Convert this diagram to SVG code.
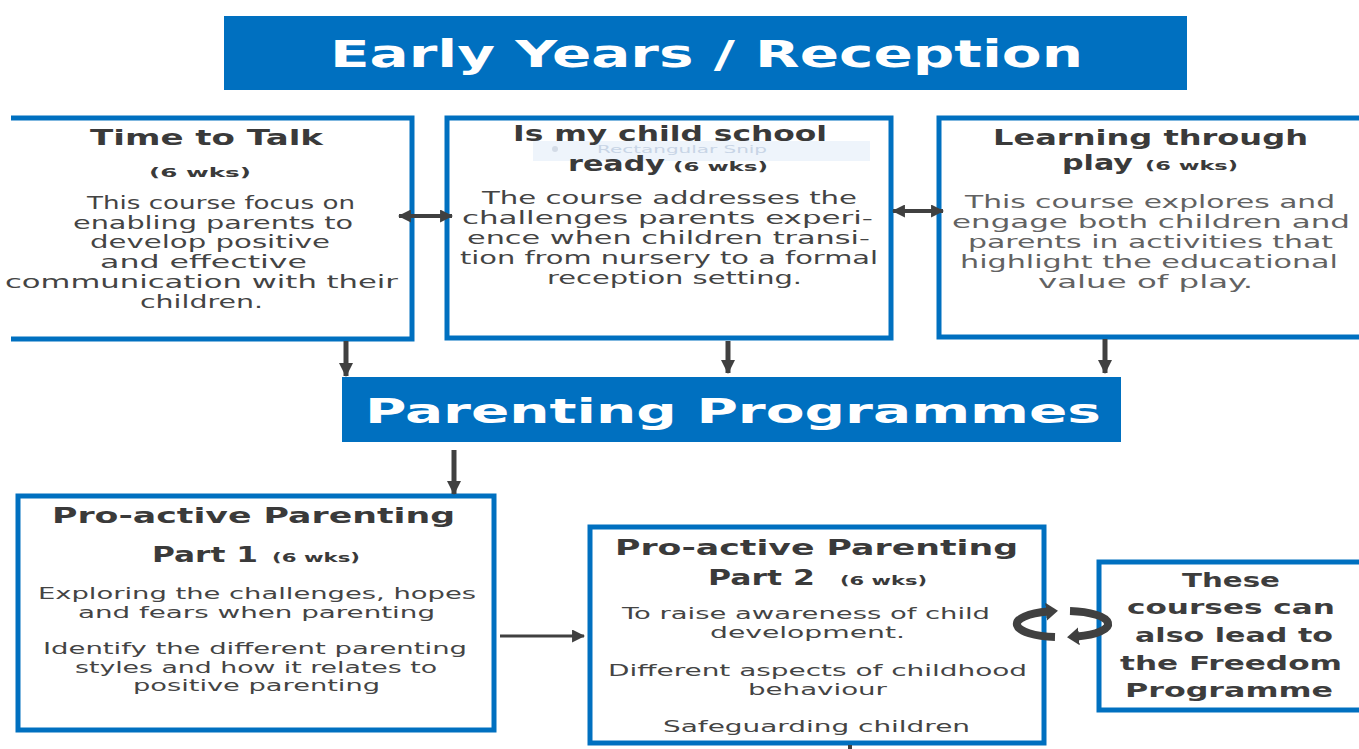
<svg xmlns="http://www.w3.org/2000/svg" width="1359" height="749" viewBox="0 0 1359 749">
  <defs>
    <style>
      .banner { fill: #0070c0; }
      .banner-text { font-family: "DejaVu Sans", "Liberation Sans", sans-serif; font-weight: bold; fill: #ffffff; text-anchor: middle; }
      .box { fill: #ffffff; stroke: #0070c0; stroke-width: 5; }
      .edge { fill: none; stroke: #0070c0; stroke-width: 5; }
      .title { font-family: "DejaVu Sans", "Liberation Sans", sans-serif; font-weight: bold; font-size: 21px; fill: #3a3a3a; text-anchor: middle; }
      .wks { font-family: "DejaVu Sans", "Liberation Sans", sans-serif; font-weight: bold; font-size: 12px; fill: #3a3a3a; text-anchor: middle; }
      .body { font-family: "DejaVu Sans", "Liberation Sans", sans-serif; font-size: 17px; fill: #444444; text-anchor: middle; }
      .body.tight { font-size: 16px; }
      .body.light { fill: #626262; }
      .lead { font-family: "DejaVu Sans", "Liberation Sans", sans-serif; font-weight: bold; font-size: 20px; fill: #3d3d3d; text-anchor: middle; }
      .conn { stroke: #404040; fill: none; }
      .snip { font-family: "DejaVu Sans", "Liberation Sans", sans-serif; font-size: 10px; fill: #c8d5e6; text-anchor: middle; }
    </style>
    <marker id="head" viewBox="0 0 12 12" markerUnits="userSpaceOnUse" markerWidth="13" markerHeight="13" refX="11" refY="6" orient="auto-start-reverse">
      <path d="M0,0 L12,6 L0,12 z" fill="#404040"/>
    </marker>
    <marker id="headBig" viewBox="0 0 14 14" markerUnits="userSpaceOnUse" markerWidth="15" markerHeight="14" refX="13" refY="7" orient="auto">
      <path d="M0,0 L14,7 L0,14 z" fill="#404040"/>
    </marker>
    <marker id="cycleHead" viewBox="0 0 12 18" markerUnits="userSpaceOnUse" markerWidth="12" markerHeight="18" refX="2" refY="9" orient="auto">
      <path d="M0,0 L12,9 L0,18 z" fill="#404040"/>
    </marker>
  </defs>

  <rect width="1359" height="749" fill="#ffffff"/>

  <!-- Header banner -->
  <g id="early-years">
    <rect class="banner" x="224" y="16" width="963" height="74"/>
    <text class="banner-text" x="706.5" y="67" font-size="37" textLength="753" lengthAdjust="spacingAndGlyphs">Early Years / Reception</text>
  </g>

  <!-- Course: Time to Talk (left edge runs off the page) -->
  <g id="time-to-talk">
    <rect x="0" y="118" width="412" height="221" fill="#ffffff"/>
    <path class="edge" d="M11,118 H412 V339 H11"/>
    <text class="title" x="206.5" y="145" textLength="233" lengthAdjust="spacingAndGlyphs">Time to Talk</text>
    <text class="wks" x="200" y="177" textLength="102" lengthAdjust="spacingAndGlyphs">(6 wks)</text>
    <text class="body" x="221" y="209" textLength="268" lengthAdjust="spacingAndGlyphs">This course focus on</text>
    <text class="body" x="213" y="229" textLength="280" lengthAdjust="spacingAndGlyphs">enabling parents to</text>
    <text class="body" x="210" y="248" textLength="240" lengthAdjust="spacingAndGlyphs">develop positive</text>
    <text class="body" x="203.5" y="268" textLength="207" lengthAdjust="spacingAndGlyphs">and effective</text>
    <text class="body" x="201.5" y="288" textLength="393" lengthAdjust="spacingAndGlyphs">communication with their</text>
    <text class="body" x="201.5" y="308" textLength="123" lengthAdjust="spacingAndGlyphs">children.</text>
  </g>

  <!-- Course: Is my child school ready (a faint "Rectangular Snip" tooltip sits over the heading) -->
  <g id="school-ready">
    <rect class="box" x="447" y="118" width="444" height="220"/>
    <rect x="533" y="141" width="337" height="20" fill="#eef4fb"/>
    <circle cx="555" cy="149" r="3" fill="#d3dbe6"/>
    <text class="snip" x="682" y="152.5" textLength="170" lengthAdjust="spacingAndGlyphs">Rectangular Snip</text>
    <text class="title" x="670" y="141" textLength="314" lengthAdjust="spacingAndGlyphs">Is my child school</text>
    <text class="title" x="616.5" y="171" textLength="97" lengthAdjust="spacingAndGlyphs">ready</text>
    <text class="wks" x="720.5" y="171" textLength="95" lengthAdjust="spacingAndGlyphs">(6 wks)</text>
    <text class="body" x="669.5" y="204" textLength="375" lengthAdjust="spacingAndGlyphs">The course addresses the</text>
    <text class="body" x="667.5" y="224" textLength="411" lengthAdjust="spacingAndGlyphs">challenges parents experi-</text>
    <text class="body" x="668.5" y="244" textLength="403" lengthAdjust="spacingAndGlyphs">ence when children transi-</text>
    <text class="body" x="669" y="264" textLength="418" lengthAdjust="spacingAndGlyphs">tion from nursery to a formal</text>
    <text class="body" x="674.5" y="284" textLength="255" lengthAdjust="spacingAndGlyphs">reception setting.</text>
  </g>

  <!-- Course: Learning through play (right edge runs off the page) -->
  <g id="learning-through-play">
    <rect class="box" x="939" y="118" width="440" height="219"/>
    <text class="title" x="1150.5" y="145" textLength="315" lengthAdjust="spacingAndGlyphs">Learning through</text>
    <text class="title" x="1097.5" y="170" textLength="71" lengthAdjust="spacingAndGlyphs">play</text>
    <text class="wks" x="1191.5" y="170" textLength="93" lengthAdjust="spacingAndGlyphs">(6 wks)</text>
    <text class="body light" x="1150" y="208" textLength="370" lengthAdjust="spacingAndGlyphs">This course explores and</text>
    <text class="body light" x="1151" y="228" textLength="398" lengthAdjust="spacingAndGlyphs">engage both children and</text>
    <text class="body light" x="1150.5" y="248" textLength="365" lengthAdjust="spacingAndGlyphs">parents in activities that</text>
    <text class="body light" x="1149" y="268" textLength="378" lengthAdjust="spacingAndGlyphs">highlight the educational</text>
    <text class="body light" x="1145.5" y="288" textLength="215" lengthAdjust="spacingAndGlyphs">value of play.</text>
  </g>

  <!-- Hub banner -->
  <g id="parenting-programmes">
    <rect class="banner" x="342" y="377" width="779" height="65"/>
    <text class="banner-text" x="733" y="423" font-size="34" textLength="736" lengthAdjust="spacingAndGlyphs">Parenting Programmes</text>
  </g>

  <!-- Course: Pro-active Parenting Part 1 -->
  <g id="proactive-part1">
    <rect class="box" x="18" y="496" width="476" height="234"/>
    <text class="title" x="253.5" y="523" textLength="403" lengthAdjust="spacingAndGlyphs">Pro-active Parenting</text>
    <text class="title" x="205" y="562" textLength="106" lengthAdjust="spacingAndGlyphs">Part 1</text>
    <text class="wks" x="316" y="562" textLength="88" lengthAdjust="spacingAndGlyphs">(6 wks)</text>
    <text class="body tight" x="257" y="599" textLength="438" lengthAdjust="spacingAndGlyphs">Exploring the challenges, hopes</text>
    <text class="body tight" x="256.5" y="618" textLength="357" lengthAdjust="spacingAndGlyphs">and fears when parenting</text>
    <text class="body tight" x="255" y="654" textLength="424" lengthAdjust="spacingAndGlyphs">Identify the different parenting</text>
    <text class="body tight" x="256" y="673" textLength="362" lengthAdjust="spacingAndGlyphs">styles and how it relates to</text>
    <text class="body tight" x="256.5" y="691" textLength="247" lengthAdjust="spacingAndGlyphs">positive parenting</text>
  </g>

  <!-- Course: Pro-active Parenting Part 2 -->
  <g id="proactive-part2">
    <rect class="box" x="590" y="527" width="454" height="216"/>
    <text class="title" x="816.5" y="555" textLength="403" lengthAdjust="spacingAndGlyphs">Pro-active Parenting</text>
    <text class="title" x="761.5" y="585" textLength="107" lengthAdjust="spacingAndGlyphs">Part 2</text>
    <text class="wks" x="883.5" y="585" textLength="87" lengthAdjust="spacingAndGlyphs">(6 wks)</text>
    <text class="body tight" x="806" y="619" textLength="368" lengthAdjust="spacingAndGlyphs">To raise awareness of child</text>
    <text class="body tight" x="807.5" y="638" textLength="195" lengthAdjust="spacingAndGlyphs">development.</text>
    <text class="body tight" x="817.5" y="676" textLength="419" lengthAdjust="spacingAndGlyphs">Different aspects of childhood</text>
    <text class="body tight" x="817.5" y="695" textLength="139" lengthAdjust="spacingAndGlyphs">behaviour</text>
    <text class="body tight" x="816.5" y="732" textLength="307" lengthAdjust="spacingAndGlyphs">Safeguarding children</text>
  </g>

  <!-- Note: onward route to the Freedom Programme -->
  <g id="freedom-programme">
    <rect class="box" x="1099" y="562" width="300" height="148"/>
    <text class="lead" x="1231" y="587" textLength="98" lengthAdjust="spacingAndGlyphs">These</text>
    <text class="lead" x="1231" y="614" textLength="208" lengthAdjust="spacingAndGlyphs">courses can</text>
    <text class="lead" x="1234" y="642" textLength="198" lengthAdjust="spacingAndGlyphs">also lead to</text>
    <text class="lead" x="1231" y="670" textLength="222" lengthAdjust="spacingAndGlyphs">the Freedom</text>
    <text class="lead" x="1229" y="697" textLength="208" lengthAdjust="spacingAndGlyphs">Programme</text>
  </g>

  <!-- Connectors -->
  <g id="connectors">
    <!-- two-way links between the reception courses -->
    <line class="conn" x1="399" y1="216" x2="452" y2="216" stroke-width="4" marker-start="url(#head)" marker-end="url(#head)"/>
    <line class="conn" x1="893" y1="211" x2="943" y2="211" stroke-width="4" marker-start="url(#head)" marker-end="url(#head)"/>
    <!-- each course feeds the parenting programmes -->
    <line class="conn" x1="346" y1="341" x2="346" y2="376" stroke-width="5" marker-end="url(#headBig)"/>
    <line class="conn" x1="728" y1="341" x2="728" y2="373" stroke-width="5" marker-end="url(#headBig)"/>
    <line class="conn" x1="1105" y1="339" x2="1105" y2="373" stroke-width="5" marker-end="url(#headBig)"/>
    <line class="conn" x1="454" y1="450" x2="454" y2="494" stroke-width="5" marker-end="url(#headBig)"/>
    <!-- Part 1 leads on to Part 2 -->
    <line class="conn" x1="500" y1="636" x2="584" y2="636" stroke-width="3" marker-end="url(#head)"/>
    <!-- stub continuing below Part 2 -->
    <line class="conn" x1="850" y1="745" x2="850" y2="749" stroke-width="4"/>
    <!-- cycle symbol between Part 2 and the Freedom note -->
    <path class="conn" stroke-width="8" d="M1055,637 A42,13 0 0 1 1048,611.5" marker-end="url(#cycleHead)"/>
    <path class="conn" stroke-width="8" d="M1070,611 A42,13 0 0 1 1077,636.5" marker-end="url(#cycleHead)"/>
  </g>
</svg>
